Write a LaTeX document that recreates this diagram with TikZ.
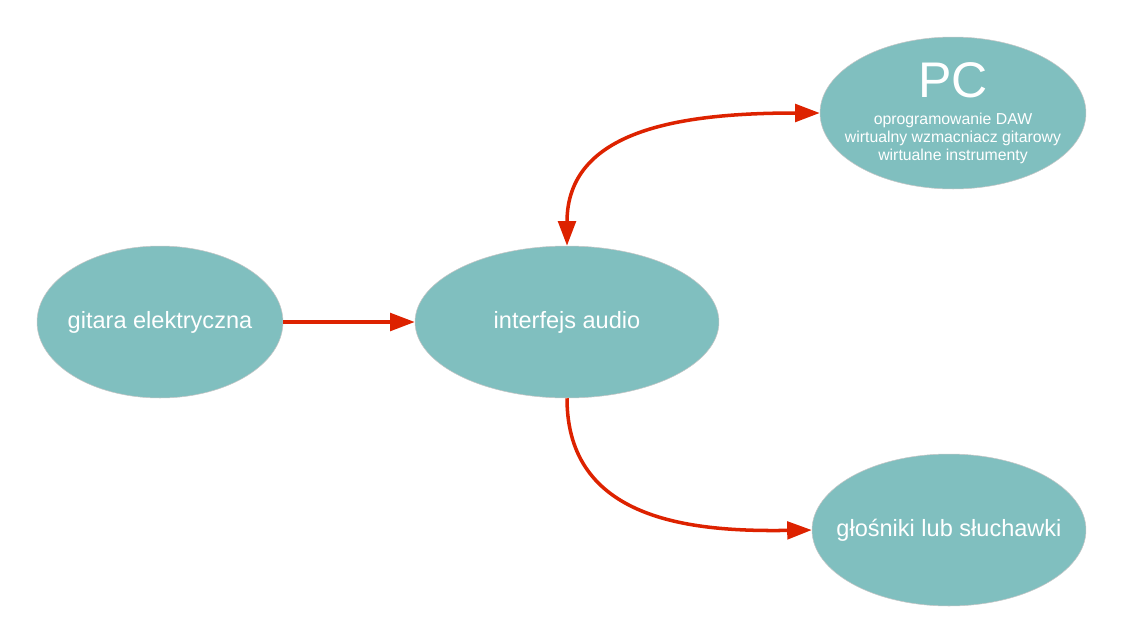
\documentclass[tikz,border=0pt]{standalone}
\usepackage{fontspec}
\setmainfont{Liberation Sans}
\usepackage{tikz}
\usetikzlibrary{shapes.geometric}
\usetikzlibrary{arrows.meta}

\definecolor{nodeteal}{HTML}{80BFBF}
\definecolor{wirered}{HTML}{DD2200}

\tikzset{
    blob/.style={shape=ellipse, fill=nodeteal, draw=gray!45, line width=0.3pt, inner sep=0pt},
    blobtext/.style={anchor=center, text=white, align=center, font=\fontsize{13.4}{15}\selectfont},
    wire/.style={draw=wirered, line width=2pt, -{Triangle[length=14pt, width=10pt]}},
    biwire/.style={wire, {Triangle[length=14pt, width=10pt]}-{Triangle[length=14pt, width=10pt]}}
}

\begin{document}
\begin{tikzpicture}[x=0.02cm, y=-0.02cm]
    		\useasboundingbox (0,0) rectangle (1123,643);
    		% Paths, nodes and wires:
    		\node[blob, minimum width=4.92cm, minimum height=3.04cm](N1) at (160, 322){} node[blobtext] at (N1.center){gitara elektryczna};
    		\node[blob, minimum width=6.08cm, minimum height=3.04cm](N2) at (567, 322){} node[blobtext] at (N2.center){interfejs audio};
    		\node[blob, minimum width=5.32cm, minimum height=3.04cm](N3) at (953, 113){} node[blobtext, font=\fontsize{9}{10.2}\selectfont] at (N3.center){{\fontsize{28.5}{30}\selectfont PC}\\[5pt]oprogramowanie DAW\\wirtualny wzmacniacz gitarowy\\wirtualne instrumenty};
    		\node[blob, minimum width=5.48cm, minimum height=3.04cm](N4) at (949, 530){} node[blobtext] at (N4.center){g\l{}o\'sniki lub s\l{}uchawki};
    		\draw[wire] (N1.east) -- (N2.west);
    		\draw[biwire] (N3.west) .. controls (680, 113) and (567, 130) .. (N2.north);
    		\draw[wire] (N2.south) .. controls (567, 520) and (690, 532) .. (N4.west);
    	\end{tikzpicture}
\end{document}
